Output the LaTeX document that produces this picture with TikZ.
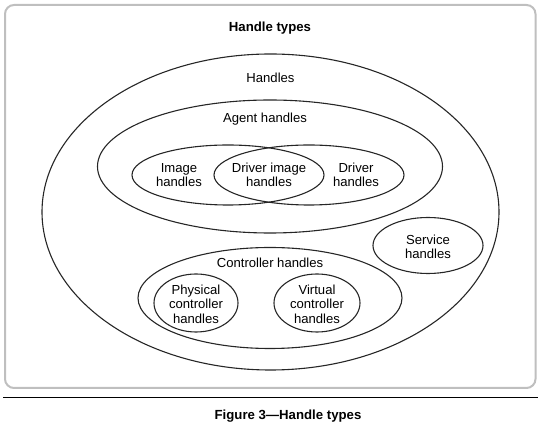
\documentclass[tikz,border=0pt]{standalone}
\usepackage{fontspec}
\setmainfont{Liberation Sans}
\usetikzlibrary{shapes.geometric}
\begin{document}
\begin{tikzpicture}[x=1pt,y=-1pt,
  set/.style={draw=black!85,line width=1.1pt,ellipse,inner sep=0pt},
  lbl/.style={align=center,font=\fontsize{13.1}{14.6}\selectfont,inner sep=0pt},
  ttl/.style={font=\fontsize{13.2}{14.6}\selectfont\bfseries,inner sep=0pt}]
\useasboundingbox (0,0) rectangle (542,427);
\draw[draw=black!25,line width=2pt,rounded corners=9pt] (5,5) rectangle (535.5,388);
\node[ttl] (title) at (270,28) {Handle types};
\node[set,minimum width=457pt,minimum height=316pt] (handles) at (270.5,212) {};
\node[lbl] (handlesl) at (270.5,78) {Handles};
\node[set,minimum width=345pt,minimum height=133pt] (agent) at (270,166.5) {};
\node[lbl] (agentl) at (265,119) {Agent handles};
\node[set,minimum width=192pt,minimum height=60pt] (image) at (228,175) {};
\node[set,minimum width=190pt,minimum height=60pt] (driver) at (309,175) {};
\node[lbl] (imagel) at (179,175) {Image\\handles};
\node[lbl] (dil) at (269,175) {Driver image\\handles};
\node[lbl] (driverl) at (356,175) {Driver\\handles};
\node[set,minimum width=110pt,minimum height=56pt] (service) at (428,245.5) {};
\node[lbl] (servicel) at (428,247) {Service\\handles};
\node[set,minimum width=264pt,minimum height=101pt] (ctrl) at (270,298) {};
\node[lbl] (ctrll) at (270,263) {Controller handles};
\node[set,minimum width=84pt,minimum height=58pt] (phys) at (196,303) {};
\node[lbl] (physl) at (196,304) {Physical\\controller\\handles};
\node[set,minimum width=86pt,minimum height=58pt] (virt) at (317,303) {};
\node[lbl] (virtl) at (317,304) {Virtual\\controller\\handles};
\coordinate (r1) at (3,397.5);
\coordinate (r2) at (538,397.5);
\draw[line width=1pt] (r1) -- (r2);
\node[ttl] (caption) at (288,416) {Figure 3—Handle types};
\end{tikzpicture}
\end{document}
